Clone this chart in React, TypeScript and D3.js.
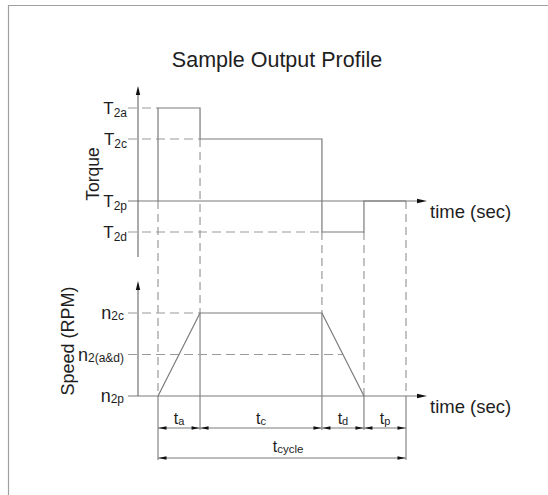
import React from 'react';
import * as d3 from 'd3';

// phases of one cycle: accel, constant, decel, pause
const phases = ['a', 'c', 'd', 'p'];
const durations = [1, 2.9, 1, 1];

// torque levels (labels are subscripts of T)
const torqueLabels = ['2a', '2c', '2p', '2d'];
const torqueValues = [3, 2, 0, -1];
const torqueProfile = [3, 2, -1, 0]; // torque held during each phase

// speed levels (labels are subscripts of n)
const speedLabels = ['2c', '2(a&d)', '2p'];
const speedValues = [2, 1, 0];
const speedProfile = [0, 2, 2, 0, 0]; // speed at each phase boundary

const font = 'Arial, "Liberation Sans", sans-serif';
const lineCol = '#7a7a7a';
const dashCol = '#9a9a9a';
const textCol = '#1e1e1e';

const Arrow = ({ x, y, dir, len = 8, half = 1.8 }) => {
  // dir: 'up' | 'right' | 'left'
  let d;
  if (dir === 'up') d = `M${x},${y}L${x - half},${y + len}L${x + half},${y + len}Z`;
  else if (dir === 'right') d = `M${x},${y}L${x - len},${y - half}L${x - len},${y + half}Z`;
  else d = `M${x},${y}L${x + len},${y - half}L${x + len},${y + half}Z`;
  return <path d={d} fill="#111" />;
};

export default function App() {
  const W = 548;
  const H = 495;
  const bounds = Array.from(d3.cumsum([0, ...durations]));
  const total = d3.sum(durations);

  const x = d3.scaleLinear().domain([0, total]).range([158, 406]);
  const yT = d3.scaleLinear().domain([-1, 3]).range([232, 108]);
  const yS = d3.scaleLinear().domain([0, 2]).range([396, 313]);

  const axisX = 138;
  const axisEnd = 427;
  const labelEnd = 127;
  const dimY = 428;
  const cycleY = 458;

  // torque step profile, starting and ending at T2p
  const torquePts = [[0, 0], ...torqueProfile.map((v, i) => [bounds[i], v]), [total, 0]];
  const torqueLine = d3.line().x(d => x(d[0])).y(d => yT(d[1])).curve(d3.curveStepAfter);
  const speedLine = d3.line().x(d => x(d[0])).y(d => yS(d[1]));
  const speedPts = bounds.slice(0, 4).map((b, i) => [b, speedProfile[i]]);

  const torqueExt = [0, ...torqueProfile, 0];

  // where each horizontal guide stops
  const torqueGuideEnd = v => x(bounds[torqueProfile.indexOf(v)]);
  const speedGuideEnd = v => {
    if (v === d3.max(speedProfile)) return x(bounds[speedProfile.indexOf(v)]);
    // crossing on the decel ramp
    const i = 2;
    const t = bounds[i] + (speedProfile[i] - v) / (speedProfile[i] - speedProfile[i + 1]) * (bounds[i + 1] - bounds[i]);
    return x(t);
  };

  return (
    <svg width={W} height={H} style={{ position: 'absolute', left: 0, top: 0, fontFamily: font }}>
      <rect width={W} height={H} fill="#fff" />
      {/* frame */}
      <path d={`M8.5,${H}V5.5H${W}`} fill="none" stroke="#a0a0a0" strokeWidth={1.2} />

      <text x={277} y={67} textAnchor="middle" fontSize={21.5} fill={textCol}>Sample Output Profile</text>

      {/* axis titles */}
      <text transform={`translate(99,174) rotate(-90)`} textAnchor="middle" fontSize={17.5} fill={textCol}>Torque</text>
      <text transform={`translate(74,341) rotate(-90)`} textAnchor="middle" fontSize={18} fill={textCol}>Speed (RPM)</text>

      {/* vertical guide lines at phase boundaries */}
      {bounds.map((b, i) => {
        const dashTop = yT(Math.min(torqueExt[i], torqueExt[i + 1]));
        const dashBot = yS(speedProfile[i]);
        const solidBot = i === 0 || i === bounds.length - 1 ? cycleY + 2 : dimY + 2;
        return (
          <g key={'v' + i}>
            <line x1={x(b)} x2={x(b)} y1={dashTop} y2={dashBot} stroke={dashCol} strokeWidth={1.2} strokeDasharray="8,5" />
            <line x1={x(b)} x2={x(b)} y1={dashBot} y2={solidBot} stroke={lineCol} strokeWidth={1.1} />
          </g>
        );
      })}

      {/* torque levels */}
      {torqueValues.map((v, i) => (
        <g key={'t' + i}>
          {v === 0 ? (
            <line x1={labelEnd + 1} x2={axisEnd - 4} y1={yT(v)} y2={yT(v)} stroke={lineCol} strokeWidth={1.1} />
          ) : (
            <line x1={labelEnd + 1} x2={torqueGuideEnd(v)} y1={yT(v)} y2={yT(v)} stroke={dashCol} strokeWidth={1.2} strokeDasharray="9,5" />
          )}
          <text x={labelEnd} y={yT(v) + 6} textAnchor="end" fill={textCol}>
            <tspan fontSize={17}>T</tspan>
            <tspan fontSize={12} dy={3}>{torqueLabels[i]}</tspan>
          </text>
        </g>
      ))}

      {/* speed levels */}
      {speedValues.map((v, i) => (
        <g key={'s' + i}>
          {v === 0 ? (
            <line x1={labelEnd + 1} x2={axisEnd - 4} y1={yS(v)} y2={yS(v)} stroke={lineCol} strokeWidth={1.1} />
          ) : (
            <line x1={labelEnd + 1} x2={speedGuideEnd(v)} y1={yS(v)} y2={yS(v)} stroke={dashCol} strokeWidth={1.2} strokeDasharray="9,5" />
          )}
          <text x={labelEnd - 3} y={yS(v) + 6} textAnchor="end" fill={textCol}>
            <tspan fontSize={18}>n</tspan>
            <tspan fontSize={12} dy={1}>{speedLabels[i]}</tspan>
          </text>
        </g>
      ))}

      {/* profiles */}
      <path d={torqueLine(torquePts)} fill="none" stroke={lineCol} strokeWidth={1.2} />
      <path d={speedLine(speedPts)} fill="none" stroke={lineCol} strokeWidth={1.2} />

      {/* axes */}
      <line x1={axisX} x2={axisX} y1={90} y2={257} stroke="#666" strokeWidth={1.1} />
      <Arrow x={axisX} y={86} dir="up" len={9} half={2.2} />
      <line x1={axisX} x2={axisX} y1={285} y2={yS(0)} stroke="#666" strokeWidth={1.1} />
      <Arrow x={axisX} y={281} dir="up" len={9} half={2.2} />
      <Arrow x={axisEnd} y={yT(0)} dir="right" len={10} half={2.2} />
      <Arrow x={axisEnd} y={yS(0)} dir="right" len={10} half={2.2} />
      <text x={430} y={yT(0) + 17} fontSize={18.5} fill={textCol}>time (sec)</text>
      <text x={430} y={yS(0) + 17} fontSize={18.5} fill={textCol}>time (sec)</text>

      {/* dimension row */}
      <line x1={x(0)} x2={x(total)} y1={dimY} y2={dimY} stroke={lineCol} strokeWidth={1} />
      {phases.map((p, i) => (
        <g key={'d' + p}>
          <Arrow x={x(bounds[i]) + 0.5} y={dimY} dir="left" />
          <Arrow x={x(bounds[i + 1]) - 0.5} y={dimY} dir="right" />
          <text x={x((bounds[i] + bounds[i + 1]) / 2)} y={dimY - 4} textAnchor="middle" fill={textCol}>
            <tspan fontSize={16}>t</tspan>
            <tspan fontSize={11} dy={1}>{p}</tspan>
          </text>
        </g>
      ))}

      {/* cycle row */}
      <line x1={x(0)} x2={x(total)} y1={cycleY} y2={cycleY} stroke={lineCol} strokeWidth={1} />
      <Arrow x={x(0) + 0.5} y={cycleY} dir="left" />
      <Arrow x={x(total) - 0.5} y={cycleY} dir="right" />
      <text x={x(total / 2) + 6} y={cycleY - 6} textAnchor="middle" fill={textCol}>
        <tspan fontSize={16}>t</tspan>
        <tspan fontSize={11.5} dy={1}>cycle</tspan>
      </text>
    </svg>
  );
}
